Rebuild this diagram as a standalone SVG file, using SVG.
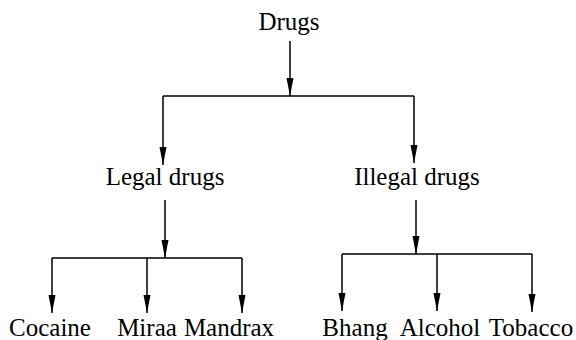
<svg xmlns="http://www.w3.org/2000/svg" width="576" height="340" viewBox="0 0 576 340">
<style>
text{font-family:"Liberation Serif","DejaVu Serif",serif;font-size:25px;fill:#000;text-anchor:middle}
.c path{fill:none;stroke:#000;stroke-width:1.5}
</style>
<defs>
<marker id="ah" markerUnits="userSpaceOnUse" markerWidth="8" markerHeight="19" refX="4" refY="18" orient="0" viewBox="0 0 8 19">
<path d="M0.5,0 L7.5,0 L4,18 Z" fill="#000"/>
</marker>
</defs>
<rect width="576" height="340" fill="#fff"/>
<g class="c" id="connectors">
<path d="M290,41 V96" marker-end="url(#ah)"/>
<path d="M163,96 H414"/>
<path d="M163,96 V165" marker-end="url(#ah)"/>
<path d="M414,96 V163" marker-end="url(#ah)"/>
<path d="M165,200 V258" marker-end="url(#ah)"/>
<path d="M52,258 H242"/>
<path d="M52,258 V313" marker-end="url(#ah)"/>
<path d="M147,258 V313" marker-end="url(#ah)"/>
<path d="M242,258 V313" marker-end="url(#ah)"/>
<path d="M416,200 V254" marker-end="url(#ah)"/>
<path d="M342,254 H532"/>
<path d="M342,254 V311" marker-end="url(#ah)"/>
<path d="M437,254 V311" marker-end="url(#ah)"/>
<path d="M532,254 V312" marker-end="url(#ah)"/>
</g>
<g id="drugs"><text x="289" y="30">Drugs</text></g>
<g id="legal"><text x="165" y="185">Legal drugs</text></g>
<g id="illegal"><text x="417" y="185">Illegal drugs</text></g>
<g id="cocaine"><text x="50" y="336">Cocaine</text></g>
<g id="miraa"><text x="147" y="336">Miraa</text></g>
<g id="mandrax"><text x="229" y="336">Mandrax</text></g>
<g id="bhang"><text x="355" y="336">Bhang</text></g>
<g id="alcohol"><text x="440" y="336">Alcohol</text></g>
<g id="tobacco"><text x="531" y="336">Tobacco</text></g>
</svg>
